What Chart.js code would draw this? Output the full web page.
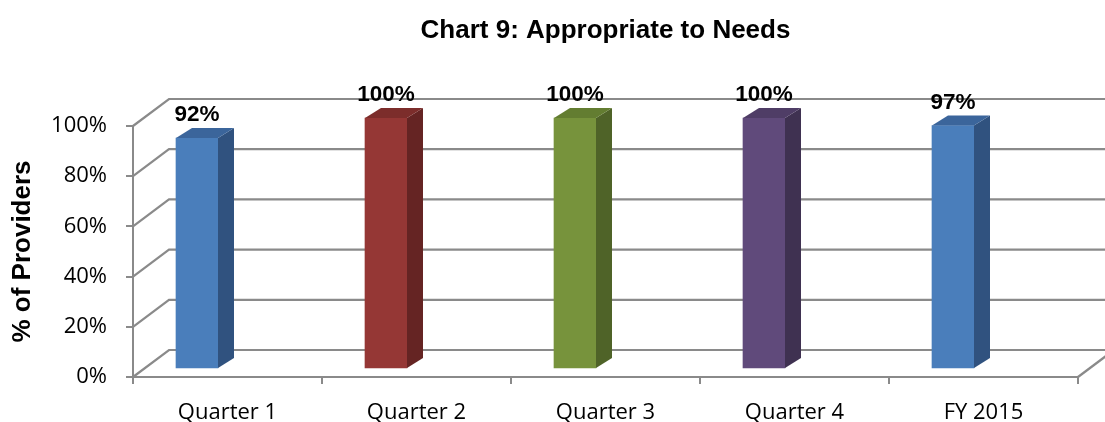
<!DOCTYPE html>
<html><head><meta charset="utf-8">
<script src="https://cdn.jsdelivr.net/npm/chart.js@4.4.0/dist/chart.umd.min.js"></script>
<style>html,body{margin:0;padding:0;background:#fff}#wrap{width:1105px;height:422px}</style>
</head><body><div id="wrap"><canvas id="c" width="1105" height="422"></canvas></div>
<script>
const categories = ['Quarter 1', 'Quarter 2', 'Quarter 3', 'Quarter 4', 'FY 2015'];
const percentProviders = [92, 100, 100, 100, 97];
const yTicks = [0, 20, 40, 60, 80, 100];

const frontColors = ['#4A7EBB', '#953735', '#77933C', '#604A7B', '#4A7EBB'];
const topColors   = ['#3B659B', '#7C2D2B', '#637D31', '#4F3D66', '#3B659B'];
const sideColors  = ['#30527F', '#652423', '#4F6328', '#3F3151', '#30527F'];

const GRID = '#8a8a8a';
const DEPTH = { dx: 36, dy: -27 };
const BAR = { shiftX: -30.5, shiftY: -8, sideX: 16, sideY: -10 };

const frame3d = {
  id: 'frame3d',
  beforeDatasetsDraw(chart) {
    const { ctx, chartArea: a, scales: { y } } = chart;
    ctx.save();
    ctx.strokeStyle = GRID;
    ctx.lineWidth = 2.2;
    yTicks.forEach(v => {
      const py = y.getPixelForValue(v);
      ctx.beginPath();
      ctx.moveTo(a.left, py);
      ctx.lineTo(a.left + DEPTH.dx, py + DEPTH.dy);
      ctx.lineTo(a.right + DEPTH.dx, py + DEPTH.dy);
      ctx.stroke();
    });
    ctx.beginPath();
    ctx.moveTo(a.right, a.bottom);
    ctx.lineTo(a.right + DEPTH.dx, a.bottom + DEPTH.dy);
    ctx.stroke();
    ctx.restore();
    ctx.save();
    ctx.translate(BAR.shiftX, BAR.shiftY);
  },
  afterDatasetsDraw(chart) {
    const { ctx } = chart;
    ctx.restore();
    const meta = chart.getDatasetMeta(0);
    ctx.save();
    meta.data.forEach((bar, i) => {
      const p = bar.getProps(['x', 'y', 'base', 'width'], true);
      const l = p.x - p.width / 2 + BAR.shiftX, r = p.x + p.width / 2 + BAR.shiftX;
      const t = p.y + BAR.shiftY, b = p.base + BAR.shiftY;
      ctx.fillStyle = sideColors[i];
      ctx.beginPath();
      ctx.moveTo(r, t); ctx.lineTo(r + BAR.sideX, t + BAR.sideY);
      ctx.lineTo(r + BAR.sideX, b + BAR.sideY); ctx.lineTo(r, b);
      ctx.closePath(); ctx.fill();
      ctx.fillStyle = topColors[i];
      ctx.beginPath();
      ctx.moveTo(l, t); ctx.lineTo(l + BAR.sideX, t + BAR.sideY);
      ctx.lineTo(r + BAR.sideX, t + BAR.sideY); ctx.lineTo(r, t);
      ctx.closePath(); ctx.fill();
      ctx.fillStyle = '#000';
      ctx.font = 'bold 22.5px "Liberation Sans", Arial, sans-serif';
      ctx.textAlign = 'center';
      ctx.textBaseline = 'alphabetic';
      ctx.fillText(percentProviders[i] + '%', (l + r) / 2, t - 17);
    });
    ctx.restore();
  }
};

new Chart(document.getElementById('c'), {
  type: 'bar',
  data: {
    labels: categories,
    datasets: [{
      data: percentProviders,
      backgroundColor: frontColors,
      borderWidth: 0,
      barThickness: 42,
      clip: false
    }]
  },
  options: {
    responsive: false,
    animation: false,
    devicePixelRatio: 1,
    layout: { padding: { left: 0, right: 27, top: 0, bottom: 0 } },
    plugins: {
      legend: { display: false },
      tooltip: { enabled: false },
      title: {
        display: true,
        text: 'Chart 9: Appropriate to Needs',
        color: '#000',
        fullSize: false,
        font: { family: '"Liberation Sans", Arial, sans-serif', size: 26, weight: 'bold' },
        padding: { top: 15.5, bottom: 79.3 }
      }
    },
    scales: {
      x: {
        grid: { display: true, drawOnChartArea: false, drawTicks: true, tickLength: 7, color: GRID, lineWidth: 2, offset: true },
        border: { display: true, color: GRID, width: 2 },
        ticks: { color: '#000', padding: 16, font: { family: '"Open Sans", sans-serif', size: 22 } },
        afterFit(s) { s.height = 45; }
      },
      y: {
        min: 0, max: 100,
        afterBuildTicks(s) { s.ticks = yTicks.map(v => ({ value: v })); },
        grid: { display: true, drawOnChartArea: false, drawTicks: true, tickLength: 7, color: GRID, lineWidth: 2 },
        border: { display: true, color: GRID, width: 2 },
        ticks: { color: '#000', padding: 19, font: { family: '"Open Sans", sans-serif', size: 22 }, callback: v => v + '%' },
        title: {
          display: true,
          text: '% of Providers',
          color: '#000',
          font: { family: '"Liberation Sans", Arial, sans-serif', size: 26, weight: 'bold' },
          padding: { top: 7, bottom: 0 }
        },
        afterFit(s) { s.width = 133; }
      }
    }
  },
  plugins: [frame3d]
});
</script>
</body></html>
